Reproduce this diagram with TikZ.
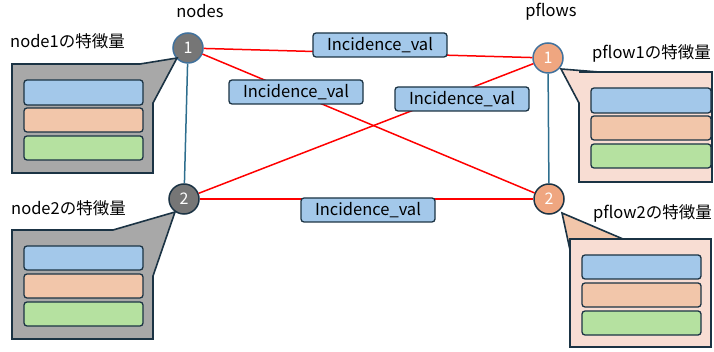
\documentclass[tikz,border=0pt]{standalone}
\usepackage{fontspec}
\setmainfont{Noto Sans CJK JP}
\definecolor{edgered}{HTML}{FF0000}
\definecolor{vline}{HTML}{2E6E8E}
\definecolor{dark}{HTML}{1B3344}
\definecolor{cblue}{HTML}{41719C}
\definecolor{ngray}{HTML}{767676}
\definecolor{porange}{HTML}{EFA680}
\definecolor{boxgray}{HTML}{A8A8A8}
\definecolor{boxpink}{HTML}{F8DDD3}
\definecolor{barblue}{HTML}{A3C8EA}
\definecolor{barorange}{HTML}{F2C6AA}
\definecolor{bargreen}{HTML}{B5E1A0}
\tikzset{
  vnode/.style={circle, minimum size=30pt, inner sep=0pt, line width=1.5pt, text=white, font=\fontsize{16}{16}\selectfont},
  lbl/.style={draw=dark, fill=barblue, rounded corners=3pt, line width=1.3pt, minimum width=134pt, minimum height=24pt, inner sep=0pt, font=\fontsize{16.5}{16.5}\selectfont},
  bar/.style={draw=dark, rounded corners=3pt, line width=1.3pt},
  ttl/.style={font=\fontsize{16.5}{16.5}\selectfont, inner sep=0pt},
  redline/.style={edgered, line width=1.5pt},
  vl/.style={vline, line width=1.5pt},
  callout/.style={draw=dark, line width=1.6pt, line join=miter}
}
\begin{document}
\begin{tikzpicture}[x=1pt,y=-1pt]
\useasboundingbox (0,0) rectangle (714,352);
% circles
\node[vnode, fill=ngray, draw=cblue] (n1) at (188,48) {1};
\node[vnode, fill=ngray, draw=dark] (n2) at (184,199) {2};
\node[vnode, fill=porange, draw=cblue] (p1) at (548,58) {1};
\node[vnode, fill=porange, draw=dark] (p2) at (549,199) {2};
% titles
\node[ttl] (tnodes) at (200,11) {nodes};
\node[ttl] (tpflows) at (551,12) {pflows};
\node[ttl, anchor=west] (t1) at (10,41) {node1の特徴量};
\node[ttl, anchor=west] (t2) at (11,208) {node2の特徴量};
\node[ttl, anchor=west] (t3) at (592,53) {pflow1の特徴量};
\node[ttl, anchor=east] (t4) at (712,213) {pflow2の特徴量};
% edges
\draw[vl] (n1) -- (n2);
\draw[vl] (p1) -- (p2);
\draw[redline] (n1) -- (p1);
\draw[redline] (n1) -- (p2);
\draw[redline] (n2) -- (p1);
\draw[redline] (n2) -- (p2);
% labels
\node[lbl] (l1) at (380,45) {Incidence\_val};
\node[lbl] (l2) at (296,92) {Incidence\_val};
\node[lbl] (l3) at (462,99) {Incidence\_val};
\node[lbl] (l4) at (368,210) {Incidence\_val};
% node1 feature box
\coordinate (c1) at (177,58);
\filldraw[callout, fill=boxgray] (12,64) -- (140,64) -- (c1) -- (153,103) -- (153,173) -- (12,173) -- cycle;
\draw[bar, fill=barblue] (24,80) rectangle (143,105);
\draw[bar, fill=barorange] (24,108) rectangle (143,132);
\draw[bar, fill=bargreen] (24,136) rectangle (143,160);
% node2 feature box
\coordinate (c2) at (175,212);
\filldraw[callout, fill=boxgray] (12,230) -- (113,230) -- (c2) -- (153,276) -- (153,339) -- (12,339) -- cycle;
\draw[bar, fill=barblue] (24,246) rectangle (143,270);
\draw[bar, fill=barorange] (24,274) rectangle (143,298);
\draw[bar, fill=bargreen] (24,302) rectangle (143,326);
% pflow1 feature box
\coordinate (c3) at (561,69);
\filldraw[callout, fill=boxpink] (579,72) -- (712,72) -- (712,182) -- (579,182) -- (579,103) -- (c3) -- (599,72) -- cycle;
\draw[bar, fill=barblue] (591,88) rectangle (711,113);
\draw[bar, fill=barorange] (591,116) rectangle (711,140);
\draw[bar, fill=bargreen] (591,144) rectangle (711,168);
% pflow2 feature box
\coordinate (c4) at (562,213);
\filldraw[callout, fill=barorange] (570,239) -- (623,239) -- (c4) -- (570,250) -- cycle;
\filldraw[callout, fill=boxpink] (570,239) -- (711,239) -- (711,347) -- (570,347) -- cycle;
\draw[bar, fill=barblue] (582,255) rectangle (701,279);
\draw[bar, fill=barorange] (582,283) rectangle (701,307);
\draw[bar, fill=bargreen] (582,311) rectangle (701,335);
\end{tikzpicture}
\end{document}
